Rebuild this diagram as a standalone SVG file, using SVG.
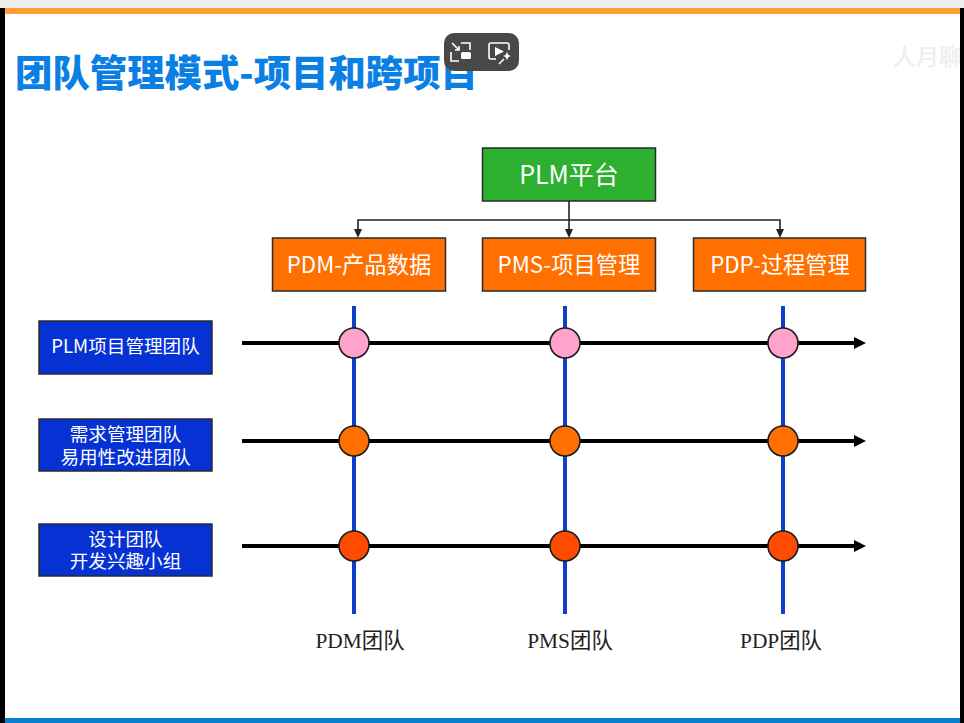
<svg xmlns="http://www.w3.org/2000/svg" width="964" height="723" viewBox="0 0 964 723">
<style>
text{font-family:"Noto Sans CJK SC","Noto Sans",sans-serif}
.box{stroke:#2b2b2b;stroke-width:1.5}
.w{fill:#fff;text-anchor:middle}
.big{font-size:22.3px}
.top{font-size:25px}
.small{font-size:18.6px}
.foot{fill:#222;text-anchor:middle;font-size:21.4px;font-family:"Liberation Serif","Noto Sans CJK SC",serif}
.thin{fill:none;stroke:#222;stroke-width:1.6}
.h{stroke:#000;stroke-width:4;fill:none}
.v{stroke:#0d3fc8;stroke-width:4;fill:none}
.c{stroke:#1c1c1c;stroke-width:1.6}
.ic{fill:none;stroke:#fff;stroke-width:1.6}
</style>
<defs>
<marker id="a" markerWidth="10" markerHeight="10" refX="2" refY="4" orient="auto" markerUnits="userSpaceOnUse"><path d="M0,0L9,4L0,8Z" fill="#222"/></marker>
<marker id="b" markerWidth="13" markerHeight="14" refX="1" refY="7" orient="auto" markerUnits="userSpaceOnUse"><path d="M0,1L12,7L0,13Z" fill="#000"/></marker>
</defs>
<g id="frame">
<rect width="964" height="723" fill="#fff"/>
<rect width="964" height="8" fill="#eeeeee"/>
<rect x="0" y="8" width="964" height="6" fill="#ff9e38"/>
<rect x="0" y="8" width="5" height="715" fill="#000"/>
<rect x="5" y="718" width="955" height="5" fill="#0a7fd0"/>
</g>
<text id="title" x="15" y="87" font-size="37.400" font-weight="900" fill="#0a80e4">团队管理模式-项目和跨项目</text>
<text id="watermark" x="893" y="65" font-size="23" font-weight="500" fill="#eeeeee">人月聊</text>
<rect x="960" y="8" width="4" height="715" fill="#000"/>
<g id="connectors">
<path class="thin" d="M569,201V231" marker-end="url(#a)"/>
<path class="thin" d="M569,220H358V231" marker-end="url(#a)"/>
<path class="thin" d="M569,220H780V231" marker-end="url(#a)"/>
<path class="v" d="M354,306V614"/>
<path class="v" d="M565,306V614"/>
<path class="v" d="M783,306V614"/>
<path class="h" d="M242,343H855" marker-end="url(#b)"/>
<path class="h" d="M242,441H855" marker-end="url(#b)"/>
<path class="h" d="M242,546H855" marker-end="url(#b)"/>
</g>
<g id="node-plm"><rect class="box" x="482.500" y="148" width="173" height="53" fill="#2db02f"/><text class="w top" x="569" y="184">PLM平台</text></g>
<g id="node-pdm"><rect class="box" x="272.500" y="238" width="173" height="53" fill="#ff7000"/><text class="w big" x="359" y="273">PDM-产品数据</text></g>
<g id="node-pms"><rect class="box" x="482.500" y="238" width="173" height="53" fill="#ff7000"/><text class="w big" x="569" y="273">PMS-项目管理</text></g>
<g id="node-pdp"><rect class="box" x="693.500" y="238" width="172" height="53" fill="#ff7000"/><text class="w big" x="780" y="273">PDP-过程管理</text></g>
<g id="node-team1"><rect class="box" x="39" y="321" width="173" height="53" fill="#0632d4"/><text class="w small" x="125.500" y="353">PLM项目管理团队</text></g>
<g id="node-team2"><rect class="box" x="39" y="419" width="173" height="52" fill="#0632d4"/><text class="w small"><tspan x="125.500" y="441">需求管理团队</tspan><tspan x="125.500" y="464">易用性改进团队</tspan></text></g>
<g id="node-team3"><rect class="box" x="39" y="524" width="173" height="52" fill="#0632d4"/><text class="w small"><tspan x="125.500" y="546">设计团队</tspan><tspan x="125.500" y="568">开发兴趣小组</tspan></text></g>
<g id="node-c11"><circle class="c" cx="354" cy="343" r="15" fill="#ffa3cc"/></g>
<g id="node-c12"><circle class="c" cx="565" cy="343" r="15" fill="#ffa3cc"/></g>
<g id="node-c13"><circle class="c" cx="783" cy="343" r="15" fill="#ffa3cc"/></g>
<g id="node-c21"><circle class="c" cx="354" cy="441" r="15" fill="#ff7000"/></g>
<g id="node-c22"><circle class="c" cx="565" cy="441" r="15" fill="#ff7000"/></g>
<g id="node-c23"><circle class="c" cx="783" cy="441" r="15" fill="#ff7000"/></g>
<g id="node-c31"><circle class="c" cx="354" cy="546" r="15" fill="#ff4a00"/></g>
<g id="node-c32"><circle class="c" cx="565" cy="546" r="15" fill="#ff4a00"/></g>
<g id="node-c33"><circle class="c" cx="783" cy="546" r="15" fill="#ff4a00"/></g>
<text class="foot" x="360" y="648">PDM团队</text>
<text class="foot" x="570" y="648">PMS团队</text>
<text class="foot" x="781" y="648">PDP团队</text>
<g id="player-badge">
<rect x="444" y="33" width="75" height="38" rx="10" fill="#484848"/>
<path class="ic" d="M461,43H470V50M451,52V61H459M452,43L459,50M459,46V50H455"/>
<rect x="461" y="52" width="10" height="7" rx="1.500" fill="#fff"/>
<path class="ic" d="M496,59H491Q489,59 489,57V45Q489,43 491,43H507Q509,43 509,45V50"/>
<path d="M495,47L504,51.500L495,56Z" fill="#fff"/>
<path d="M507,52L508.500,55L511,56L508.500,57L507,60L505.500,57L503,56L505.500,55Z" fill="#fff"/>
<path class="ic" d="M504,59L499,64"/>
</g>
</svg>
